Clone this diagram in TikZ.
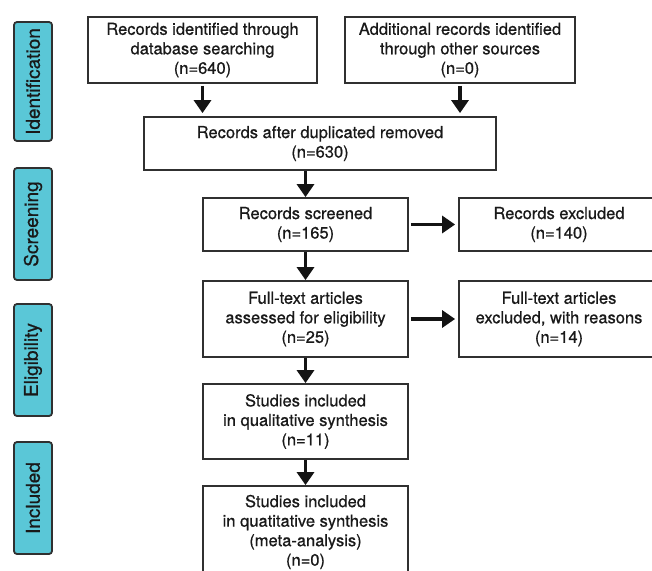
\documentclass[tikz,border=0pt]{standalone}
\usepackage{fontspec}
\setmainfont[FakeBold=0.7]{TeX Gyre Heros}
\usetikzlibrary{arrows.meta}
\definecolor{tabcyan}{HTML}{5AC7D7}
\definecolor{edgegray}{HTML}{303030}

\begin{document}
\begin{tikzpicture}[x=1pt,y=-1pt,
    box/.style={draw=edgegray, line width=1.8pt, align=center, inner sep=0pt,
        font=\fontsize{16.5}{19.5}\selectfont, text=black!90},
    tab/.style={draw=edgegray, fill=tabcyan, line width=1.8pt, rounded corners=3pt,
        minimum height=38pt, rotate=90, inner sep=0pt,
        font=\fontsize{19}{22}\selectfont, text=black!90},
    flow/.style={line width=3.2pt, black!92, -{Triangle[width=17pt,length=13pt]}}]
    \useasboundingbox (0,0) rectangle (652,570);
    \clip (0,0) rectangle (652,570);
    % stage tabs
    \node[tab, minimum width=119pt] (ident) at (33,81.5) {Identification};
    \node[tab, minimum width=112pt] (screen) at (33,224) {Screening};
    \node[tab, minimum width=112pt] (elig) at (33,360) {Eligibility};
    \node[tab, minimum width=112pt] (incl) at (33,498) {Included};
    % boxes
    \node[box, minimum width=229pt, minimum height=66pt] (db) at (202.5,50)
        {Records identified through\\database searching\\(n=640)};
    \node[box, minimum width=230pt, minimum height=66pt] (other) at (460,50)
        {Additional records identified\\through other sources\\(n=0)};
    \node[box, minimum width=352pt, minimum height=53pt] (dup) at (320,143.5)
        {Records after duplicated removed\\(n=630)};
    \node[box, minimum width=205pt, minimum height=53pt] (screened) at (305.5,224.5)
        {Records screened\\(n=165)};
    \node[box, minimum width=200pt, minimum height=53pt] (excl) at (559,224.5)
        {Records excluded\\(n=140)};
    \node[box, minimum width=205pt, minimum height=76pt] (fulltext) at (305.5,319)
        {Full-text articles\\assessed for eligibility\\(n=25)};
    \node[box, minimum width=200pt, minimum height=76pt] (fexcl) at (559,319)
        {Full-text articles\\excluded, with reasons\\(n=14)};
    \node[box, minimum width=205pt, minimum height=75pt] (qual) at (305.5,421.5)
        {Studies included\\in qualitative synthesis\\(n=11)};
    \node[box, minimum width=205pt, minimum height=92pt] (meta) at (305.5,532)
        {Studies included\\in quatitative synthesis\\(meta-analysis)\\(n=0)};
    % arrows
    \draw[flow, shorten <=2pt, shorten >=3pt] (db.south) -- (db.south |- dup.north);
    \draw[flow, shorten <=2pt, shorten >=3pt] (other.south) -- (other.south |- dup.north);
    \draw[flow] (screened.north |- dup.south) -- (screened.north);
    \draw[flow] (screened.south) -- (fulltext.north);
    \draw[flow] (fulltext.south) -- (qual.north);
    \draw[flow] (qual.south) -- (meta.north);
    \draw[flow, shorten <=2pt, shorten >=3pt] (screened.east) -- (excl.west);
    \draw[flow, shorten <=2pt, shorten >=3pt] (fulltext.east) -- (fexcl.west);
\end{tikzpicture}
\end{document}
